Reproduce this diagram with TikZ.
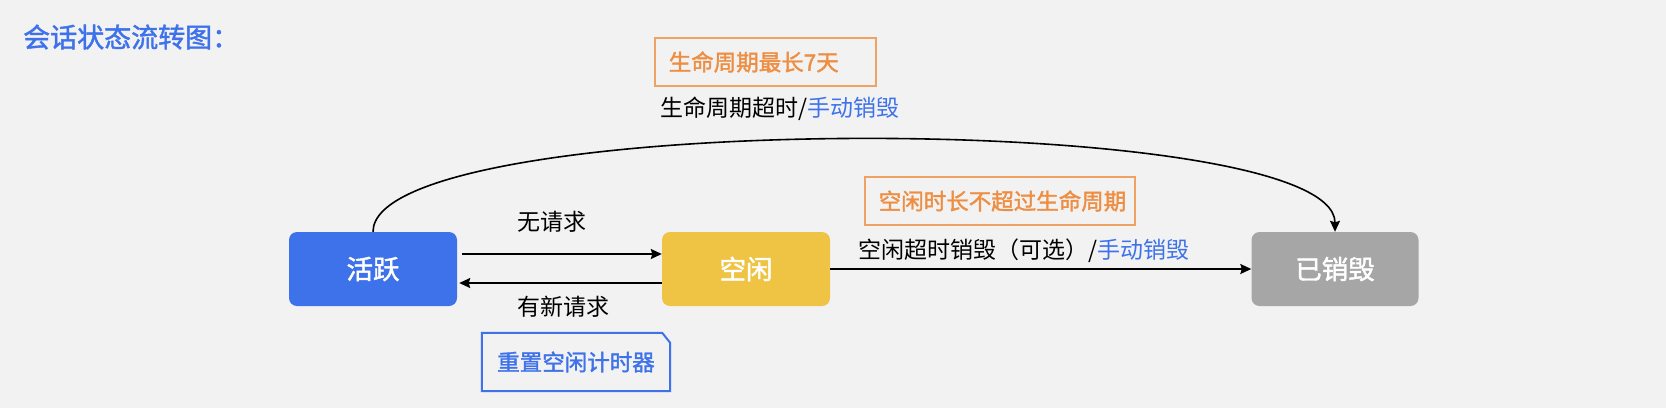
\documentclass[tikz,border=0pt]{standalone}
\usepackage{fontspec}
\setmainfont{Noto Sans CJK SC}
\newfontfamily\midfont{Noto Sans CJK SC}[FakeBold=1.6]
\usetikzlibrary{arrows.meta}
\definecolor{pageback}{HTML}{F2F2F2}
\definecolor{activeblue}{HTML}{3E72EB}
\definecolor{idleyellow}{HTML}{EFC444}
\definecolor{deadgray}{HTML}{A6A6A6}
\definecolor{memoorange}{HTML}{EE8E42}
\definecolor{memoline}{HTML}{F0A262}
\begin{document}
\begin{tikzpicture}[x=1pt,y=-1pt,
    state/.style={rounded corners=8pt,minimum width=168pt,minimum height=74pt,
      text=white,font=\midfont\fontsize{26.5}{30}\selectfont},
    edgetext/.style={inner sep=0pt,font=\fontsize{23}{27}\selectfont},
    memo/.style={draw=memoline,line width=1.5pt,text=memoorange,inner xsep=14pt,
      minimum height=48pt,align=left,text width=#1,
      font=\midfont\fontsize{22.5}{27}\selectfont},
    resetnote/.style={minimum width=188pt,minimum height=58pt,text=activeblue,
      font=\midfont\fontsize{22.5}{27}\selectfont},
    noteline/.style={draw=activeblue,line width=2pt},
    flow/.style={-{Stealth[length=11pt,width=10pt,inset=1.5pt]},line width=1.6pt}]
      \fill[pageback] (0,0) rectangle (1666,408);
      \useasboundingbox (0,0) rectangle (1666,408);
      \draw
        (23,37) node[anchor=west,inner sep=0pt,text=activeblue,
          font=\midfont\fontsize{27}{31}\selectfont] (title){会话状态流转图：}
        (373,269) node[state,fill=activeblue] (active){活跃}
        (746,269) node[state,fill=idleyellow] (idle){空闲}
        (1335,269) node[state,fill=deadgray,minimum width=167pt] (dead){已销毁}
        (552,222) node[edgetext] (noreq){无请求}
        (563,307) node[edgetext] (newreq){有新请求}
        (858,251) node[edgetext,anchor=west] (idlelabel){空闲超时销毁（可选）/\textcolor{activeblue}{手动销毁}}
        (660,109) node[edgetext,anchor=west] (lifelabel){生命周期超时/\textcolor{activeblue}{手动销毁}}
        (654,62) node[memo=193pt,anchor=west] (lifememo){生命周期最长7天}
        (864,201) node[memo=242pt,anchor=west] (idlememo){空闲时长不超过生命周期}
        (576,362) node[resetnote] (reset){重置空闲计时器};
      \draw[noteline] (reset.south west) -- (reset.north west)
        -- ([xshift=-8pt]reset.north east) -- ([yshift=-10pt]reset.north east)
        -- (reset.south east) -- cycle;
      \begin{scope}[flow]
        \draw ([xshift=5pt,yshift=15pt]active.east) -- ([yshift=15pt]idle.west);
        \draw ([yshift=-14pt]idle.west) -- ([xshift=2pt,yshift=-14pt]active.east);
        \draw (idle.east) -- (dead.west);
        \draw (active.north) .. controls +(0,-123) and +(0,-123) .. (dead.north);
      \end{scope}
    \end{tikzpicture}
\end{document}
